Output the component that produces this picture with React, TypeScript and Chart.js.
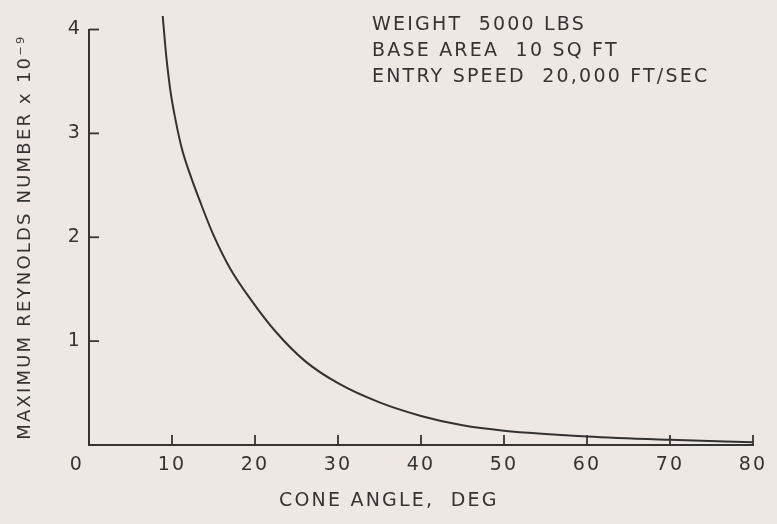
import React, { useEffect, useRef } from "react";
import { Chart, registerables } from "chart.js";

Chart.register(...registerables);

// Cone angle (deg) vs maximum Reynolds number (x 10^-9)
const ANGLE = [8.88, 9.3, 9.8, 10.4, 11.2, 12.2, 13.4, 15, 17, 19.5, 22.5, 26, 30, 35, 40, 45, 50, 60, 70, 80];
const REYNOLDS = [4.13, 3.75, 3.415, 3.14, 2.85, 2.6, 2.34, 2.02, 1.7, 1.4, 1.09, 0.81, 0.595, 0.41, 0.28, 0.19, 0.138, 0.082, 0.05, 0.027];

const X_MIN = 0;
const X_MAX = 80;
const X_STEP = 10;
const Y_MIN = 0;
const Y_MAX = 4;
const Y_STEP = 1;

const X_TITLE = "CONE ANGLE,  DEG";
const Y_TITLE = "MAXIMUM REYNOLDS NUMBER x 10⁻⁹";
const NOTES = ["WEIGHT  5000 LBS", "BASE AREA  10 SQ FT", "ENTRY SPEED  20,000 FT/SEC"];
const CORNER_LABEL = "0";

const INK = "#353433";
const PAPER = "#eee8e5";
const FONT_FAMILY = "'DejaVu Sans', sans-serif";
const FONT_SIZE = 19;
const SPACING = "2.2px";

export default function App() {
  const ref = useRef<HTMLCanvasElement | null>(null);

  useEffect(() => {
    document.body.style.margin = "0";
    document.body.style.background = PAPER;
    const canvas = ref.current;
    if (!canvas) return;

    const setSpacing = (chart: any, s: string) => {
      try {
        (chart.ctx as any).letterSpacing = s;
      } catch (e) {}
    };

    const paperPlugin = {
      id: "paper",
      beforeUpdate(chart: any) {
        setSpacing(chart, SPACING);
      },
      beforeDraw(chart: any) {
        const ctx = chart.ctx;
        setSpacing(chart, SPACING);
        ctx.save();
        ctx.fillStyle = PAPER;
        ctx.fillRect(0, 0, chart.width, chart.height);
        ctx.restore();
      },
      afterDraw(chart: any) {
        const ctx = chart.ctx;
        const xs = chart.scales.x;
        const ys = chart.scales.y;
        const area = chart.chartArea;
        ctx.save();
        ctx.strokeStyle = INK;
        ctx.lineWidth = 1.8;
        // inward tick marks
        xs.ticks.forEach((t: any) => {
          if (t.value === X_MIN) return;
          const px = xs.getPixelForValue(t.value);
          ctx.beginPath();
          ctx.moveTo(px, area.bottom);
          ctx.lineTo(px, area.bottom - 10);
          ctx.stroke();
        });
        ys.ticks.forEach((t: any) => {
          if (t.value === Y_MIN) return;
          const py = ys.getPixelForValue(t.value);
          ctx.beginPath();
          ctx.moveTo(area.left, py);
          ctx.lineTo(area.left + 10, py);
          ctx.stroke();
        });
        // text
        ctx.fillStyle = INK;
        (ctx as any).letterSpacing = SPACING;
        ctx.font = `${FONT_SIZE}px ${FONT_FAMILY}`;
        ctx.textBaseline = "middle";
        ctx.textAlign = "center";
        ctx.fillText(CORNER_LABEL, xs.getPixelForValue(X_MIN) - 12, area.bottom + 20);
        ctx.textBaseline = "alphabetic";
        ctx.textAlign = "left";
        ctx.fillText(X_TITLE, 279, 506);
        NOTES.forEach((line, i) => {
          ctx.fillText(line, 372, 30 + i * 25.8);
        });
        ctx.restore();
      },
    };

    const chart = new Chart(canvas, {
      type: "line",
      data: {
        datasets: [
          {
            data: ANGLE.map((a, i) => ({ x: a, y: REYNOLDS[i] })),
            borderColor: "#333231",
            borderWidth: 2,
            pointRadius: 0,
            fill: false,
            cubicInterpolationMode: "monotone",
            clip: false as any,
          },
        ],
      },
      options: {
        animation: false,
        responsive: false,
        maintainAspectRatio: false,
        devicePixelRatio: 1,
        layout: { padding: { top: 29.5, right: 24, left: 0, bottom: 0 } },
        plugins: { legend: { display: false }, tooltip: { enabled: false }, title: { display: false } },
        scales: {
          x: {
            type: "linear",
            min: X_MIN,
            max: X_MAX,
            ticks: {
              stepSize: X_STEP,
              color: INK,
              font: { family: FONT_FAMILY, size: FONT_SIZE },
              padding: 9,
              maxRotation: 0,
              callback: (v: any) => (v === X_MIN ? "" : String(v)),
            },
            grid: { drawOnChartArea: false, drawTicks: false },
            border: { color: INK, width: 2 },
            afterFit: (s: any) => {
              s.height = 79;
            },
          },
          y: {
            type: "linear",
            min: Y_MIN,
            max: Y_MAX,
            ticks: {
              stepSize: Y_STEP,
              color: INK,
              font: { family: FONT_FAMILY, size: FONT_SIZE },
              padding: 7,
              callback: (v: any) => (v === Y_MIN ? "" : String(v)),
            },
            grid: { drawOnChartArea: false, drawTicks: false },
            border: { color: INK, width: 2 },
            title: {
              display: true,
              text: Y_TITLE,
              color: INK,
              font: { family: FONT_FAMILY, size: 18 },
              padding: { top: 15, bottom: 0 },
            },
            afterFit: (s: any) => {
              s.width = 89;
            },
          },
        },
      },
      plugins: [paperPlugin],
    });

    return () => chart.destroy();
  }, []);

  return (
    <div style={{ position: "fixed", left: 0, top: 0, width: 777, height: 524, background: PAPER }}>
      <canvas ref={ref} width={777} height={524} style={{ width: 777, height: 524, display: "block" }} />
    </div>
  );
}
